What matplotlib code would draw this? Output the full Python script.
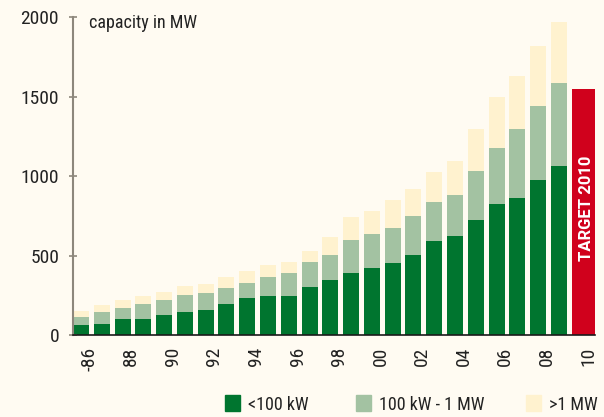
import matplotlib
matplotlib.use("Agg")
import matplotlib.pyplot as plt
from matplotlib import font_manager
from matplotlib.patches import Rectangle

# installed capacity (cumulative levels in MW)
years = list(range(1986, 2010))
below_100kw = [63, 69, 103, 103, 128, 147, 160, 197, 235, 248, 248, 304,
               348, 392, 424, 455, 506, 594, 623, 724, 825, 863, 976, 1064]
upto_1mw = [113, 147, 172, 197, 222, 254, 266, 298, 329, 367, 390, 460,
            504, 598, 636, 674, 749, 837, 882, 1033, 1178, 1297, 1442, 1587]
total = [153, 191, 222, 248, 273, 311, 323, 367, 405, 442, 460, 529,
         617, 743, 781, 850, 919, 1026, 1096, 1297, 1499, 1631, 1820, 1971]
target_year = 2010
target_value = 1550

tick_years = list(range(1986, 2011, 2))
tick_labels = ["-86", "88", "90", "92", "94", "96", "98", "00", "02", "04", "06", "08", "10"]
legend_labels = ["<100 kW", "100 kW - 1 MW", ">1 MW"]

dark_green = "#00752F"
light_green = "#A3C2A2"
cream = "#FFF2CF"
red = "#D0011C"
bg = "#FFFBF2"

names = {f.name for f in font_manager.fontManager.ttflist}
font = "Roboto"
for cand in ["Roboto Condensed", "Liberation Sans Narrow"]:
    if cand in names:
        font = cand
        break
plt.rcParams["font.family"] = [font, "DejaVu Sans"]

W, H = 604, 417
fig = plt.figure(figsize=(W / 100, H / 100), dpi=100, facecolor=bg)
ax = fig.add_axes([73 / W, 1 - 335 / H, 522 / W, (335 - 17.3) / H])
ax.set_facecolor(bg)

mid = [b - a for a, b in zip(below_100kw, upto_1mw)]
top = [b - a for a, b in zip(upto_1mw, total)]
bw = 0.77
b1 = ax.bar(years, below_100kw, width=bw, color=dark_green)
b2 = ax.bar(years, mid, bottom=below_100kw, width=bw, color=light_green)
b3 = ax.bar(years, top, bottom=upto_1mw, width=bw, color=cream)
ax.bar(target_year - bw / 2, target_value, width=1.107, align="edge", color=red)
ax.text(target_year + 0.34, 800, "TARGET 2010", rotation=90, color="white",
        fontsize=12, fontweight="bold", ha="center", va="center", family="Roboto")

ax.set_xlim(years[0] - bw / 2, years[0] - bw / 2 + 522 / 20.78)
ax.set_ylim(0, 2000)
ax.set_yticks([0, 500, 1000, 1500, 2000])
ax.set_xticks([y + 0.42 for y in tick_years])
ax.set_xticklabels(tick_labels, rotation=90)
ax.tick_params(axis="x", length=0, pad=8.5, labelsize=14, labelcolor="#222222")
ax.tick_params(axis="y", direction="inout", length=6, width=1.2, color="#8d877c",
               pad=7, labelsize=14, labelcolor="#222222")

for s in ["top", "right"]:
    ax.spines[s].set_visible(False)
ax.spines["left"].set_color("#8d877c")
ax.spines["left"].set_linewidth(1.5)
ax.spines["bottom"].set_color("#1a1a1a")
ax.spines["bottom"].set_linewidth(1.2)

fig.text(89 / W, 1 - 28 / H, "capacity in MW", fontsize=13, color="#222222",
         ha="left", va="baseline")

# legend
sq_x = [225, 356, 526]
for x, c, lab in zip(sq_x, [dark_green, light_green, cream], legend_labels):
    fig.add_artist(Rectangle((x / W, 1 - 411 / H), 15 / W, 16 / H,
                             transform=fig.transFigure, color=c))
    fig.text((x + 23) / W, 1 - 410 / H, lab, fontsize=13, color="#222222",
             ha="left", va="baseline")

fig.savefig("out.png", dpi=100, facecolor=bg)
